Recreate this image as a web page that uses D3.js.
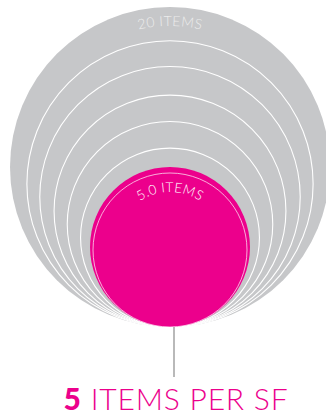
<!DOCTYPE html>
<html>
<head>
<meta charset="utf-8">
<script src="https://cdn.jsdelivr.net/npm/d3@7"></script>
<style>
  body { margin: 0; background: #fff; }
  svg { display: block; }
</style>
</head>
<body>
<div class="chart"></div>
<script>
// ring sizes (items per sf), largest first
var ringValues = [20, 16, 13.25, 10.5, 8.25, 6.25];
var highlightValue = 5;
var outerLabel = "20 ITEMS";
var innerLabel = "5.0 ITEMS";
var titleNumber = "5";
var titleText = " ITEMS PER SF";

var svgWidth = 326;
var svgHeight = 416;

var svg = d3.select(".chart").append("svg")
  .attr("width", svgWidth)
  .attr("height", svgHeight);

// all circles sit on the same baseline
var baseY = 327;
var cx = 170;

// area proportional to value
var rScale = d3.scaleSqrt()
  .domain([0, 20])
  .range([0, 160]);

var gray = "#c6c7c9";
var pink = "#ec008c";

svg.selectAll("circle.ring")
  .data(ringValues)
  .enter()
  .append("circle")
  .attr("class", "ring")
  .attr("cx", cx)
  .attr("cy", d => baseY - rScale(d))
  .attr("r", d => rScale(d))
  .attr("fill", gray)
  .attr("stroke", (d, i) => i === 0 ? "none" : "#fff")
  .attr("stroke-width", 1.1);

// highlighted circle
var hr = rScale(highlightValue);
svg.append("circle")
  .attr("cx", cx)
  .attr("cy", baseY - hr)
  .attr("r", hr)
  .attr("fill", pink);

svg.append("circle")
  .attr("cx", cx)
  .attr("cy", baseY - hr + 3)
  .attr("r", hr - 3)
  .attr("fill", "none")
  .attr("stroke", "#fff")
  .attr("stroke-opacity", 0.85)
  .attr("stroke-width", 0.8);

// curved labels
function arcPath(cyy, r) {
  return `M ${cx - r},${cyy} A ${r} ${r} 0 0 1 ${cx + r},${cyy}`;
}

var defs = svg.append("defs");
var outerR = rScale(ringValues[0]);
defs.append("path")
  .attr("id", "outerArc")
  .attr("d", arcPath(baseY - outerR, outerR - 19));
defs.append("path")
  .attr("id", "innerArc")
  .attr("d", arcPath(baseY - hr, hr - 25));

svg.append("text")
  .attr("font-family", "Lato, 'Open Sans', sans-serif")
  .attr("font-weight", 300)
  .attr("font-size", 14)
  .attr("letter-spacing", 0.4)
  .attr("fill", "#ececec")
  .append("textPath")
  .attr("href", "#outerArc")
  .attr("startOffset", "50%")
  .attr("text-anchor", "middle")
  .text(outerLabel);

svg.append("text")
  .attr("font-family", "Lato, 'Open Sans', sans-serif")
  .attr("font-weight", 300)
  .attr("font-size", 13.5)
  .attr("letter-spacing", 0.3)
  .attr("fill", "#fff")
  .append("textPath")
  .attr("href", "#innerArc")
  .attr("startOffset", "50%")
  .attr("text-anchor", "middle")
  .text(innerLabel);

// leader line
svg.append("line")
  .attr("x1", 174)
  .attr("x2", 174)
  .attr("y1", baseY)
  .attr("y2", 377)
  .attr("stroke", "#8a8a8a")
  .attr("stroke-width", 1.2);

// title
var title = svg.append("text")
  .attr("x", 176)
  .attr("y", 410)
  .attr("text-anchor", "middle")
  .attr("font-family", "Lato, 'Open Sans', sans-serif")
  .attr("font-size", 30)
  .attr("letter-spacing", 0.8)
  .attr("fill", pink);

title.append("tspan")
  .attr("font-weight", 900)
  .text(titleNumber);
title.append("tspan")
  .attr("font-weight", 300)
  .text(titleText);
</script>
</body>
</html>
